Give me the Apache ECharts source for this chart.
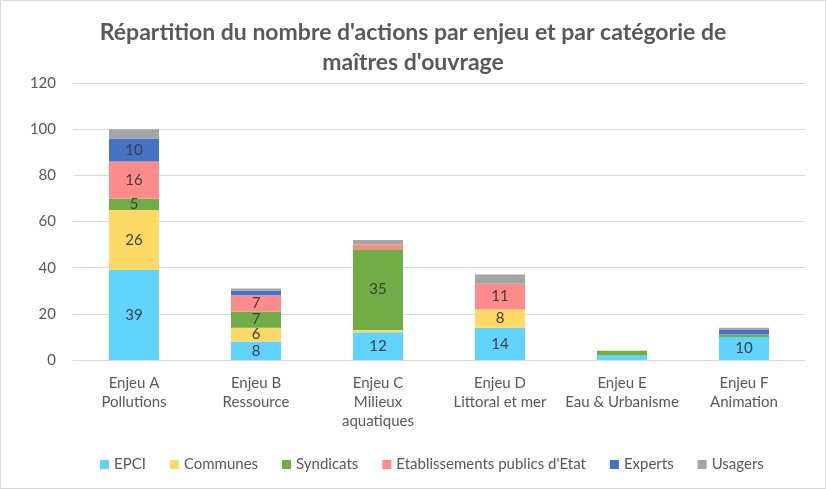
<!DOCTYPE html>
<html>
<head>
<meta charset="utf-8">
<script src="https://cdn.jsdelivr.net/npm/echarts@6/dist/echarts.min.js"></script>
<style>
  body { margin: 0; background: #fff; }
  #chart { width: 824px; height: 487px; border: 1px solid #d9d9d9; }
</style>
</head>
<body>
<div id="chart"></div>
<script>
  var categories = ['Enjeu A\nPollutions', 'Enjeu B\nRessource', 'Enjeu C\nMilieux\naquatiques',
    'Enjeu D\nLittoral et mer', 'Enjeu E\nEau & Urbanisme', 'Enjeu F\nAnimation'];
  var epci = [39, 8, 12, 14, 2, 10];
  var communes = [26, 6, 1, 8, 0, 0];
  var syndicats = [5, 7, 35, 0, 2, 1];
  var etablissements = [16, 7, 2, 11, 0, 0];
  var experts = [10, 2, 0, 0, 0, 2];
  var usagers = [4, 1, 2, 4, 0, 1];

  var txt = '#595959';
  var font = 'Lato, "Open Sans", sans-serif';

  function serie(name, data, color) {
    return {
      name: name,
      type: 'bar',
      stack: 'total',
      barWidth: 50,
      data: data,
      itemStyle: { color: color },
      label: {
        show: true,
        color: '#404040',
        fontSize: 15,
        fontFamily: font,
        formatter: function (p) { return p.value >= 5 ? p.value : ''; }
      }
    };
  }

  var myChart = echarts.init(document.getElementById('chart'));
  var option = {
    animation: false,
    title: {
      text: "Répartition du nombre d'actions par enjeu et par catégorie de\nmaîtres d'ouvrage",
      left: 'center',
      top: 12,
      textStyle: { color: txt, fontSize: 23, fontWeight: 'bold', fontFamily: font, lineHeight: 30 }
    },
    legend: {
      left: 94,
      bottom: 11,
      itemWidth: 9,
      itemHeight: 9,
      itemGap: 24,
      icon: 'rect',
      textStyle: { color: txt, fontSize: 15, fontFamily: font },
      data: ['EPCI', 'Communes', 'Syndicats', "Etablissements publics d'Etat", 'Experts', 'Usagers']
    },
    grid: { left: 72, right: 20, top: 82, bottom: 128 },
    xAxis: {
      type: 'category',
      data: categories,
      axisLine: { lineStyle: { color: '#d9d9d9' } },
      axisTick: { show: false },
      axisLabel: { color: txt, fontSize: 15, fontFamily: font, lineHeight: 19, margin: 14, interval: 0 }
    },
    yAxis: {
      type: 'value',
      min: 0,
      max: 120,
      interval: 20,
      axisLabel: { color: txt, fontSize: 15, fontFamily: font, margin: 17 },
      splitLine: { lineStyle: { color: '#d9d9d9' } }
    },
    series: [
      serie('EPCI', epci, '#61D3FF'),
      serie('Communes', communes, '#FFD966'),
      serie('Syndicats', syndicats, '#70AD47'),
      serie("Etablissements publics d'Etat", etablissements, '#FF8B8B'),
      serie('Experts', experts, '#4472C4'),
      serie('Usagers', usagers, '#A5A5A5')
    ]
  };
  myChart.setOption(option);
</script>
</body>
</html>
